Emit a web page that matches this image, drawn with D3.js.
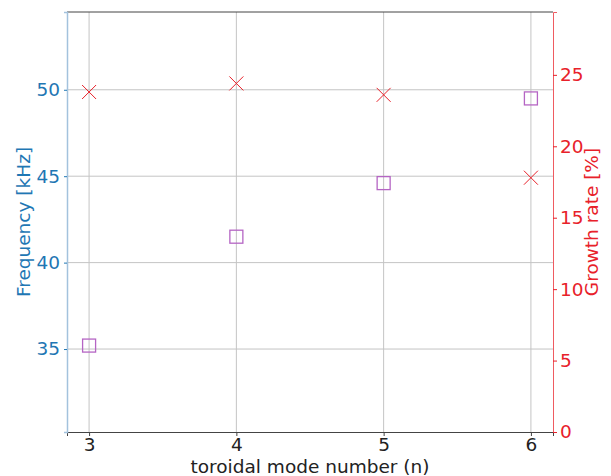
<!DOCTYPE html>
<html>
<head>
<meta charset="utf-8">
<script src="https://cdn.jsdelivr.net/npm/d3@7"></script>
<style>
  body { margin: 0; background: #fff; }
  svg text { font-family: "DejaVu Sans", sans-serif; }
</style>
</head>
<body>
<div id="chart"></div>
<script>
// data
var modes = [3, 4, 5, 6];
var frequency = [35.2, 41.5, 44.6, 49.5];   // kHz
var growthRate = [23.8, 24.4, 23.6, 17.8];  // %
var freqTicks = [35, 40, 45, 50];
var growthTicks = [0, 5, 10, 15, 20, 25];

var W = 611, H = 476;
var margin = { top: 12, right: 58, bottom: 44, left: 67 },
    width = W - margin.left - margin.right,
    height = H - margin.top - margin.bottom;

var fs = 18.5;

var svg = d3.select("#chart").append("svg")
    .attr("width", W).attr("height", H)
    .append("g")
    .attr("transform", "translate(" + margin.left + "," + margin.top + ")");

var x = d3.scaleLinear().domain([2.85, 6.15]).range([0, width]);
var yL = d3.scaleLinear().domain([30.2, 54.5]).range([height, 0]);
var yR = d3.scaleLinear().domain([0, 29.4]).range([height, 0]);

var blue = "#1f77b4", red = "#e8212a";

// grid
svg.append("g").selectAll("line").data(modes).enter().append("line")
    .attr("x1", function (d) { return x(d); }).attr("x2", function (d) { return x(d); })
    .attr("y1", 0).attr("y2", height)
    .attr("stroke", "#c4c4c4").attr("stroke-width", 1);
svg.append("g").selectAll("line").data(freqTicks).enter().append("line")
    .attr("x1", 0).attr("x2", width)
    .attr("y1", function (d) { return yL(d); }).attr("y2", function (d) { return yL(d); })
    .attr("stroke", "#c4c4c4").attr("stroke-width", 1);

// top spine
svg.append("line").attr("x1", 0).attr("x2", width).attr("y1", 0).attr("y2", 0)
    .attr("stroke", "#444").attr("stroke-width", 1);

// bottom axis
var xAxis = svg.append("g")
    .attr("transform", "translate(0," + height + ")")
    .call(d3.axisBottom(x).tickValues(modes).tickFormat(d3.format("d")).tickSizeOuter(0).tickSize(4).tickPadding(2));
xAxis.select(".domain").attr("stroke", "#444");
xAxis.selectAll(".tick line").attr("stroke", "#444");
xAxis.selectAll("text").attr("font-size", fs).attr("fill", "#222");

// left axis
var leftAxis = svg.append("g")
    .call(d3.axisLeft(yL).tickValues(freqTicks).tickSizeOuter(0).tickSize(3).tickPadding(4));
leftAxis.select(".domain").attr("stroke", "#a3c2dd").attr("stroke-width", 1.5);
leftAxis.selectAll(".tick line").attr("stroke", blue);
leftAxis.selectAll("text").attr("font-size", fs).attr("fill", blue);

// right axis
var rightAxis = svg.append("g")
    .attr("transform", "translate(" + width + ",0)")
    .call(d3.axisRight(yR).tickValues(growthTicks).tickSizeOuter(0).tickSize(4).tickPadding(3));
rightAxis.select(".domain").attr("stroke", "#ef5b61").attr("stroke-width", 1);
rightAxis.selectAll(".tick line").attr("stroke", red);
rightAxis.selectAll("text").attr("font-size", fs).attr("fill", red);

// axis labels
svg.append("text")
    .attr("x", width / 2).attr("y", height + 41)
    .attr("text-anchor", "middle").attr("font-size", fs).attr("fill", "#222")
    .text("toroidal mode number (n)");

svg.append("text")
    .attr("transform", "translate(" + (-37) + "," + (height / 2) + ") rotate(-90)")
    .attr("text-anchor", "middle").attr("font-size", fs).attr("fill", blue)
    .text("Frequency [kHz]");

svg.append("text")
    .attr("transform", "translate(" + (width + 45) + "," + (height / 2) + ") rotate(-90)")
    .attr("text-anchor", "middle").attr("font-size", fs).attr("fill", red)
    .text("Growth rate [%]");

// frequency markers: open squares
svg.append("g").selectAll("rect").data(modes).enter().append("rect")
    .attr("x", function (d) { return x(d) - 6.5; })
    .attr("y", function (d, i) { return yL(frequency[i]) - 6.5; })
    .attr("width", 13).attr("height", 13)
    .attr("fill", "none").attr("stroke", "#b565c4").attr("stroke-width", 1.3);

// growth rate markers: x
var s = 7;
svg.append("g").selectAll("path").data(modes).enter().append("path")
    .attr("d", function (d, i) {
        var cx = x(d), cy = yR(growthRate[i]);
        return "M" + (cx - s) + "," + (cy - s) + "L" + (cx + s) + "," + (cy + s) +
               "M" + (cx - s) + "," + (cy + s) + "L" + (cx + s) + "," + (cy - s);
    })
    .attr("fill", "none").attr("stroke", red).attr("stroke-width", 1);
</script>
</body>
</html>
